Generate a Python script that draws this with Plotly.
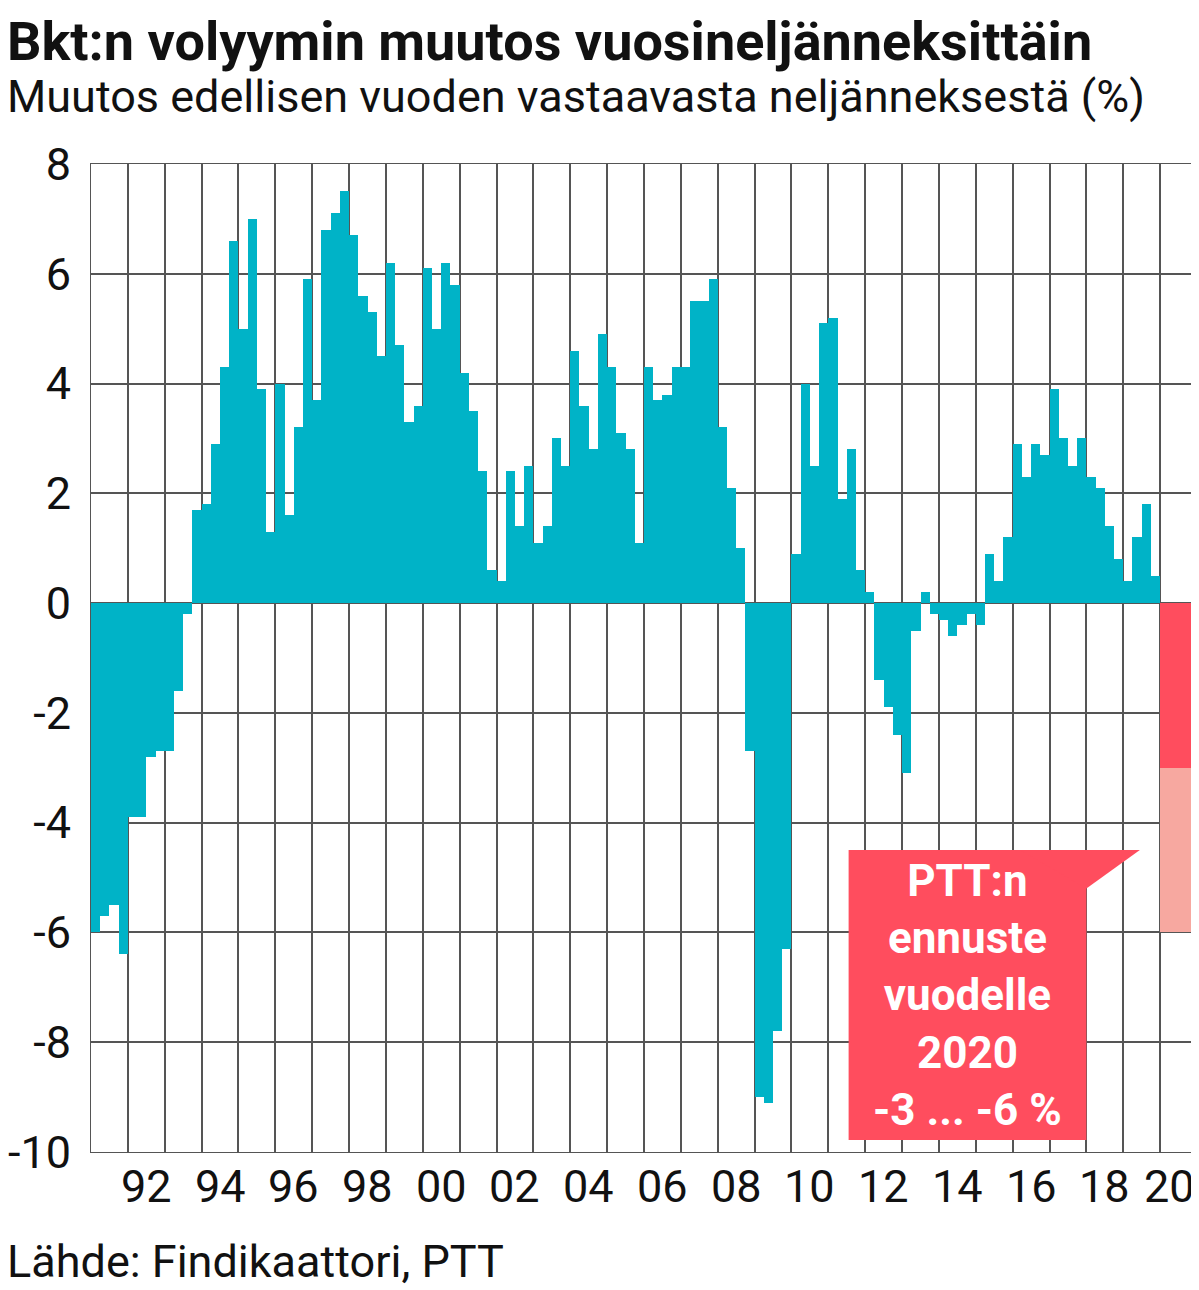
import plotly.graph_objects as go

# Quarterly GDP volume change, % vs same quarter previous year (1991Q1 - 2019Q4)
years = list(range(1991, 2020))
values = [
    -6.0, -5.7, -5.5, -6.4,   # 1991
    -3.9, -3.9, -2.8, -2.7,   # 1992
    -2.7, -1.6, -0.2, 1.7,    # 1993
    1.8, 2.9, 4.3, 6.6,       # 1994
    5.0, 7.0, 3.9, 1.3,       # 1995
    4.0, 1.6, 3.2, 5.9,       # 1996
    3.7, 6.8, 7.1, 7.5,       # 1997
    6.7, 5.6, 5.3, 4.5,       # 1998
    6.2, 4.7, 3.3, 3.6,       # 1999
    6.1, 5.0, 6.2, 5.8,       # 2000
    4.2, 3.5, 2.4, 0.6,       # 2001
    0.4, 2.4, 1.4, 2.5,       # 2002
    1.1, 1.4, 3.0, 2.5,       # 2003
    4.6, 3.6, 2.8, 4.9,       # 2004
    4.3, 3.1, 2.8, 1.1,       # 2005
    4.3, 3.7, 3.8, 4.3,       # 2006
    4.3, 5.5, 5.5, 5.9,       # 2007
    3.2, 2.1, 1.0, -2.7,      # 2008
    -9.0, -9.1, -7.8, -6.3,   # 2009
    0.9, 4.0, 2.5, 5.1,       # 2010
    5.2, 1.9, 2.8, 0.6,       # 2011
    0.2, -1.4, -1.9, -2.4,    # 2012
    -3.1, -0.5, 0.2, -0.2,    # 2013
    -0.3, -0.6, -0.4, -0.2,   # 2014
    -0.4, 0.9, 0.4, 1.2,      # 2015
    2.9, 2.3, 2.9, 2.7,       # 2016
    3.9, 3.0, 2.5, 3.0,       # 2017
    2.3, 2.1, 1.4, 0.8,       # 2018
    0.4, 1.2, 1.8, 0.5,       # 2019
]
quarter_x = [y + (q + 0.5) / 4 for y in years for q in range(4)]

# PTT forecast for 2020: -3 ... -6 %
forecast_year = 2020
forecast_high = -3
forecast_low = -6

tick_years = list(range(1992, 2021, 2))
tick_labels = [f'{y % 100:02d}' for y in tick_years]
y_ticks = [8, 6, 4, 2, 0, -2, -4, -6, -8, -10]

TEAL = '#00b3c7'
RED = '#ff4d5e'
PINK = '#f7a8a0'
FONT = 'Roboto'
LEFT_X = -0.078  # paper x of page's left text edge

fig = go.Figure()
fig.add_trace(go.Bar(x=quarter_x, y=values, width=0.25, marker=dict(color=TEAL, line_width=0)))
fig.add_trace(go.Bar(x=[forecast_year + 0.5], y=[forecast_high], base=[0], width=1,
                     marker=dict(color=RED, line_width=0)))
fig.add_trace(go.Bar(x=[forecast_year + 0.5], y=[forecast_low - forecast_high], base=[forecast_high],
                     width=1, marker=dict(color=PINK, line_width=0)))

# year labels centred under each year (last one kept inside the page)
for yr, lab in zip(tick_years, tick_labels):
    last = yr == tick_years[-1]
    fig.add_annotation(x=yr + 1 if last else yr + 0.5, xanchor='right' if last else 'center',
                       y=0, yref='paper', yshift=-6, text=lab, showarrow=False,
                       yanchor='top', font=dict(family=FONT, size=45, color='#111'))

# callout box with pointer
bx0, bx1, by0, by1 = 2011.55, 2018.0, -4.5, -9.78
fig.add_shape(type='rect', x0=bx0, x1=bx1, y0=by1, y1=by0, fillcolor=RED, line_width=0, layer='above')
fig.add_shape(type='path', path=f'M 2016.2 {by0} L 2019.45 {by0} L {bx1} -5.2 Z',
              fillcolor=RED, line_width=0, layer='above')
fig.add_annotation(x=(bx0 + bx1) / 2, y=(by0 + by1) / 2, showarrow=False,
                   text='PTT:n<br>ennuste<br>vuodelle<br>2020<br>-3 ... -6 %',
                   font=dict(family=FONT, size=44, color='white', weight='bold'))

fig.update_layout(
    width=1191, height=1282,
    margin=dict(l=83, r=2, t=156, b=138, autoexpand=False),
    plot_bgcolor='white', paper_bgcolor='white',
    showlegend=False, barmode='overlay', bargap=0,
    xaxis=dict(range=[1991, 2021], tick0=1991, dtick=1, showticklabels=False, showgrid=True,
               gridcolor='#555', gridwidth=1.5, zeroline=False, showline=True, linecolor='#555',
               mirror=True),
    yaxis=dict(range=[-10, 8], tickvals=y_ticks, ticktext=[str(v) for v in y_ticks],
               showgrid=True, gridcolor='#555', gridwidth=1.5, zeroline=False, showline=True,
               linecolor='#555', mirror=True, ticks='', ticklabelstandoff=10, automargin=False,
               tickfont=dict(family=FONT, size=45, color='#111')),
)
fig.add_annotation(x=LEFT_X, xref='paper', xanchor='left', y=1.158, yref='paper', yanchor='top',
                   text='<b>Bkt:n volyymin muutos vuosineljänneksittäin</b>', showarrow=False,
                   font=dict(family=FONT, size=54, color='#111'))
fig.add_annotation(x=LEFT_X, xref='paper', xanchor='left', y=1.068, yref='paper', yanchor='middle',
                   text='Muutos edellisen vuoden vastaavasta neljänneksestä (%)', showarrow=False,
                   font=dict(family=FONT, size=45, color='#111'))
fig.add_annotation(x=LEFT_X, xref='paper', xanchor='left', y=-0.111, yref='paper', yanchor='middle',
                   text='Lähde: Findikaattori, PTT', showarrow=False,
                   font=dict(family=FONT, size=45, color='#111'))

fig.write_html('out.html')
